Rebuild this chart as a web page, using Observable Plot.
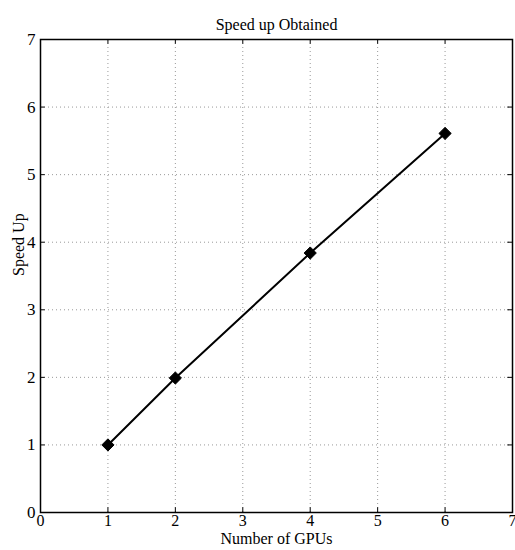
<!DOCTYPE html>
<html>
<head>
<meta charset="utf-8">
<script src="https://cdn.jsdelivr.net/npm/d3@7"></script>
<script src="https://cdn.jsdelivr.net/npm/@observablehq/plot@0.6"></script>
<style>
  body { margin: 0; background: #fff; }
  svg { font-family: "Liberation Serif", "Times New Roman", serif; }
</style>
</head>
<body>
<div id="chart"></div>
<script>
const gpus = [1, 2, 4, 6];
const speedup = [1.0, 1.99, 3.84, 5.61];
const ticks = [0, 1, 2, 3, 4, 5, 6, 7];
const title = "Speed up Obtained";
const xLabel = "Number of GPUs";
const yLabel = "Speed Up";

const data = gpus.map((g, i) => ({ g, s: speedup[i] }));
const inner = ticks.slice(1, -1);

const chart = Plot.plot({
  width: 515,
  height: 550,
  marginLeft: 40,
  marginRight: 3,
  marginTop: 39,
  marginBottom: 38,
  style: { fontFamily: "Liberation Serif, Times New Roman, serif", fontSize: "14px", background: "#fff", overflow: "visible" },
  x: { domain: [0, 7], ticks: ticks },
  y: { domain: [0, 7], ticks: ticks },
  marks: [
    Plot.ruleX(inner, { x: d => d, stroke: "#999", strokeWidth: 1, strokeDasharray: "1,3" }),
    Plot.ruleY(inner, { y: d => d, stroke: "#999", strokeWidth: 1, strokeDasharray: "1,3" }),
    Plot.ruleX(inner, { x: d => d, y1: 0, y2: 0.07, stroke: "black", strokeWidth: 1 }),
    Plot.ruleX(inner, { x: d => d, y1: 6.93, y2: 7, stroke: "black", strokeWidth: 1 }),
    Plot.ruleY(inner, { y: d => d, x1: 0, x2: 0.07, stroke: "black", strokeWidth: 1 }),
    Plot.ruleY(inner, { y: d => d, x1: 6.93, x2: 7, stroke: "black", strokeWidth: 1 }),
    Plot.frame({ stroke: "black", strokeWidth: 1.5 }),
    Plot.axisX(ticks, { tickSize: 0, tickPadding: 2, fontSize: 16, label: null, fill: "black", tickFormat: d3.format("d") }),
    Plot.axisY(ticks, { tickSize: 0, tickPadding: 5, fontSize: 17, label: null, fill: "black", tickFormat: d3.format("d") }),
    Plot.text([xLabel], { frameAnchor: "bottom", dy: 31, fontSize: 16, fill: "black" }),
    Plot.text([yLabel], { frameAnchor: "left", dx: -22, rotate: -90, fontSize: 16, fill: "black" }),
    Plot.text([title], { frameAnchor: "top", dy: -21, fontSize: 16, fill: "black" }),
    Plot.line(data, { x: "g", y: "s", stroke: "black", strokeWidth: 2 }),
    Plot.dot(data, { x: "g", y: "s", symbol: "diamond2", r: 5.5, fill: "black", stroke: "black", strokeWidth: 1 })
  ]
});
document.getElementById("chart").appendChild(chart);
</script>
</body>
</html>
